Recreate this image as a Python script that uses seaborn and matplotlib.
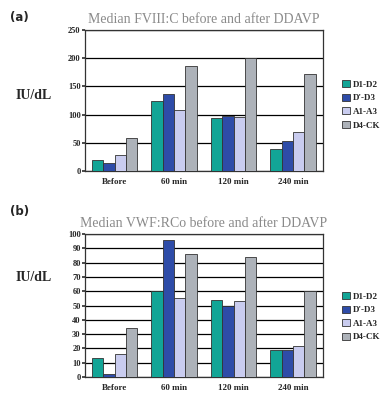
import matplotlib
matplotlib.use("Agg")
import matplotlib.pyplot as plt
import seaborn as sns
import pandas as pd

categories = ["Before", "60 min", "120 min", "240 min"]
series = ["D1-D2", "D'-D3", "A1-A3", "D4-CK"]
fviii_d1d2 = [20, 124, 95, 40]
fviii_dd3 = [14, 136, 97, 54]
fviii_a1a3 = [28, 108, 96, 70]
fviii_d4ck = [58, 187, 200, 172]
vwf_d1d2 = [13, 60, 54, 19]
vwf_dd3 = [2, 96, 50, 19]
vwf_a1a3 = [16, 55, 53, 22]
vwf_d4ck = [34, 86, 84, 60]
colors = ["#12a596", "#2e4ca8", "#c9ccef", "#adb2b9"]

def make_df(vals):
    rows = []
    for s, v in zip(series, vals):
        for c, x in zip(categories, v):
            rows.append({"time": c, "group": s, "value": x})
    return pd.DataFrame(rows)

df_a = make_df([fviii_d1d2, fviii_dd3, fviii_a1a3, fviii_d4ck])
df_b = make_df([vwf_d1d2, vwf_dd3, vwf_a1a3, vwf_d4ck])

sns.set_theme(style="white")
plt.rcParams["font.family"] = ["Liberation Serif", "DejaVu Serif"]

fig = plt.figure(figsize=(3.89, 3.96), dpi=100)
ax_a = fig.add_axes([0.218, 0.568, 0.612, 0.356])
ax_b = fig.add_axes([0.218, 0.048, 0.612, 0.361])

def draw(ax, df, ymax, step, title, letter, letter_y, ylab_y):
    sns.barplot(data=df, x="time", y="value", hue="group", palette=colors,
                saturation=1, width=0.76, ax=ax, edgecolor="#333333", linewidth=0.6,
                legend=False, zorder=3)
    ax.set_ylim(0, ymax)
    ax.set_yticks(range(0, ymax + 1, step))
    ax.yaxis.grid(True, color="black", linewidth=0.9, zorder=0)
    ax.set_axisbelow(True)
    for sp in ax.spines.values():
        sp.set_color("#333333")
        sp.set_linewidth(0.9)
    ax.set_xlabel("")
    ax.set_ylabel("")
    ax.tick_params(axis="y", labelsize=6, length=2, pad=1, left=True, color="#333333")
    ax.tick_params(axis="x", labelsize=6.5, length=0, pad=5)
    for t in ax.get_xticklabels() + ax.get_yticklabels():
        t.set_fontweight("bold")
    ax.set_title(title, fontsize=10, color="#8a8a8a", pad=5)
    fig.text(0.025, letter_y, letter, fontsize=8.5,
             fontweight="bold", family="DejaVu Sans", va="center")
    fig.text(0.04, ylab_y, "IU/dL", fontsize=10, fontweight="bold", va="center")

draw(ax_a, df_a, 250, 50, "Median FVIII:C before and after DDAVP", "(a)", 0.955, 0.76)
draw(ax_b, df_b, 100, 10, "Median VWF:RCo before and after DDAVP", "(b)", 0.465, 0.30)

from matplotlib.patches import Patch
for ypos in (0.735, 0.20):
    handles = [Patch(facecolor=c, edgecolor="#333333", linewidth=0.6) for c in colors]
    fig.legend(handles, series, loc="center left", bbox_to_anchor=(0.88, ypos),
               frameon=False, prop={"size": 6.5, "weight": "bold"},
               handlelength=0.8, handleheight=0.8, handletextpad=0.4,
               labelspacing=0.55, borderpad=0, borderaxespad=0)

fig.savefig("out.png", dpi=100)
